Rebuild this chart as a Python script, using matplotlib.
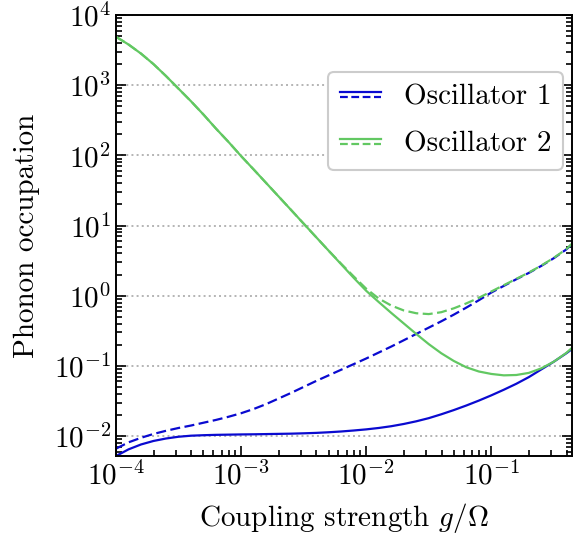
from matplotlib import pyplot as plt
from matplotlib.lines import Line2D
from matplotlib.legend_handler import HandlerBase
from matplotlib import ticker
import numpy as np

plt.rcParams['font.family'] = 'serif'
plt.rcParams['font.serif'] = ['cmr10']
plt.rcParams['mathtext.fontset'] = 'cm'
plt.rcParams['axes.formatter.use_mathtext'] = True

# values, in decades (log10)
log_g = [-4.0, -3.9, -3.8, -3.7, -3.6, -3.5, -3.4, -3.3, -3.2, -3.1,
         -3.0, -2.9, -2.8, -2.7, -2.6, -2.5, -2.4, -2.3, -2.2, -2.1,
         -2.0, -1.9, -1.8, -1.7, -1.6, -1.5, -1.4, -1.3, -1.2, -1.1,
         -1.0, -0.9, -0.8, -0.7, -0.6, -0.5, -0.4, -0.347]

log_osc1_solid = [-2.285, -2.19, -2.12, -2.07, -2.035, -2.01, -1.995, -1.988, -1.983, -1.98,
                  -1.977, -1.975, -1.972, -1.969, -1.966, -1.961, -1.955, -1.946, -1.935, -1.921,
                  -1.905, -1.885, -1.86, -1.828, -1.79, -1.745, -1.69, -1.63, -1.565, -1.495,
                  -1.42, -1.34, -1.255, -1.16, -1.05, -0.94, -0.82, -0.75]
log_osc1_dashed = [-2.18, -2.09, -2.025, -1.97, -1.925, -1.885, -1.85, -1.81, -1.77, -1.725,
                   -1.675, -1.615, -1.545, -1.465, -1.385, -1.30, -1.215, -1.135, -1.055, -0.975,
                   -0.895, -0.81, -0.725, -0.635, -0.545, -0.455, -0.365, -0.27, -0.17, -0.065,
                   0.045, 0.14, 0.235, 0.325, 0.425, 0.535, 0.66, 0.75]
log_osc2_solid = [3.69, 3.58, 3.45, 3.30, 3.13, 2.95, 2.77, 2.58, 2.38, 2.19,
                  1.99, 1.80, 1.607, 1.414, 1.221, 1.027, 0.834, 0.641, 0.448, 0.255,
                  0.07, -0.09, -0.245, -0.395, -0.545, -0.69, -0.82, -0.93, -1.02, -1.08,
                  -1.115, -1.135, -1.13, -1.10, -1.035, -0.94, -0.815, -0.73]
log_osc2_dashed = [3.69, 3.58, 3.45, 3.30, 3.13, 2.95, 2.77, 2.58, 2.38, 2.19,
                   1.99, 1.80, 1.607, 1.414, 1.221, 1.027, 0.834, 0.641, 0.455, 0.275,
                   0.10, -0.04, -0.14, -0.21, -0.25, -0.262, -0.235, -0.18, -0.11, -0.03,
                   0.06, 0.15, 0.24, 0.33, 0.43, 0.54, 0.665, 0.755]

g = 10 ** np.array(log_g)

blue = '#0a0ad0'
green = '#62c862'


class PairHandler(HandlerBase):
    # solid line stacked over the dashed one
    def create_artists(self, legend, orig_handle, xdescent, ydescent,
                       width, height, fontsize, trans):
        arts = []
        for line, frac in zip(orig_handle, (0.62, 0.38)):
            l = Line2D([-xdescent, -xdescent + width],
                       [frac * height - ydescent] * 2,
                       color=line.get_color(), linestyle=line.get_linestyle(),
                       linewidth=line.get_linewidth(), transform=trans)
            if line.get_linestyle() == '--':
                l.set_dashes((3.5, 1.6))
            arts.append(l)
        return arts


fig = plt.figure(figsize=(5.73, 5.36), dpi=100)
ax = fig.add_axes([0.2024, 0.1493, 0.7966, 0.8227])

lw = 1.6
b1, = ax.plot(g, 10 ** np.array(log_osc1_solid), color=blue, lw=lw)
b2, = ax.plot(g, 10 ** np.array(log_osc1_dashed), color=blue, lw=lw, ls='--', dashes=(4.5, 2))
g1, = ax.plot(g, 10 ** np.array(log_osc2_solid), color=green, lw=lw)
g2, = ax.plot(g, 10 ** np.array(log_osc2_dashed), color=green, lw=lw, ls='--', dashes=(4.5, 2))

ax.set_xscale('log')
ax.set_yscale('log')
ax.set_xlim(1e-4, 0.445)
ax.set_ylim(5.2e-3, 1e4)
ax.yaxis.set_major_locator(ticker.LogLocator(base=10, numticks=20))
ax.yaxis.set_minor_locator(ticker.LogLocator(base=10, subs=np.arange(2, 10), numticks=20))
ax.yaxis.set_minor_formatter(ticker.NullFormatter())
ax.xaxis.set_minor_formatter(ticker.NullFormatter())

ax.grid(axis='y', which='major', color='#b4b4b4', linestyle=':', linewidth=1.4)
ax.tick_params(which='both', direction='in', top=False, right=True,
               labelsize=21, width=1.2)
ax.tick_params(which='major', length=7)
ax.tick_params(which='minor', length=4)
for s in ax.spines.values():
    s.set_linewidth(1.4)

ax.set_xlabel(r'Coupling strength $g/\Omega$', fontsize=21, labelpad=8)
ax.set_ylabel('Phonon occupation', fontsize=21, labelpad=10)

leg = ax.legend([(b1, b2), (g1, g2)], ['Oscillator 1', 'Oscillator 2'],
                handler_map={tuple: PairHandler()}, loc='upper right',
                bbox_to_anchor=(0.98, 0.87), borderaxespad=0, fontsize=21,
                handlelength=1.4, handletextpad=0.8, labelspacing=0.72,
                framealpha=1, edgecolor='#cccccc')
leg.get_frame().set_linewidth(1.5)

fig.savefig('out.png', dpi=100)
